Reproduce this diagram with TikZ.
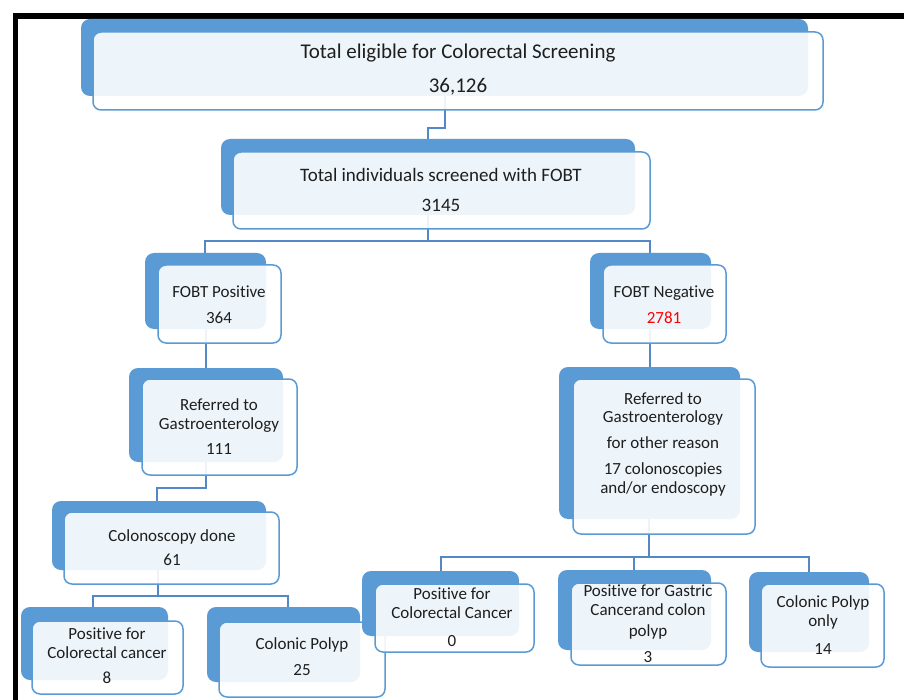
\documentclass[tikz,border=0pt]{standalone}
\usepackage{fontspec}
\setmainfont[Ligatures={NoCommon}]{Carlito}
\usetikzlibrary{fit}
\definecolor{accent}{HTML}{5B9BD5}
\definecolor{linkc}{HTML}{5287C8}
\definecolor{ink}{HTML}{1E1E1E}
\pgfdeclarelayer{canvas}
\pgfdeclarelayer{links}
\pgfsetlayers{canvas,links,main}
\begin{document}
\begin{tikzpicture}[x=1pt,y=-1pt,
  boxback/.style={fill=accent, draw=none, rounded corners=9pt, inner sep=0pt, outer sep=0pt},
  boxfront/.style={draw=accent, line width=1.5pt, fill=white, fill opacity=0.9, rounded corners=8pt, inner sep=0pt, outer sep=0pt},
  link/.style={draw=linkc, line width=1.9pt},
  lbl/.style={align=center, text=ink, font=\fontsize{17}{19}\selectfont, inner sep=0pt}]
\useasboundingbox (0,0) rectangle (904,700);
\begin{pgfonlayer}{canvas}
\fill[white] (0,0) rectangle (904,700);
\draw[line width=5.5pt, black] (904,16) -- (15.5,16) -- (15.5,700);
\end{pgfonlayer}

% level 1
\node[boxback, fit={(81,19)(808,96)}] (b1) {};
\node[boxfront, fit={(93,32)(823,110)}] (f1) {};
\node[lbl, font=\fontsize{21}{25}\selectfont] (t1) at (458,70) {Total eligible for Colorectal Screening\\[9pt]36,126};

% level 2
\node[boxback, fit={(221,139)(635,215)}] (b2) {};
\node[boxfront, fit={(233,152)(650,229)}] (f2) {};
\node[lbl, font=\fontsize{19}{22}\selectfont] (t2) at (441,190) {Total individuals screened with FOBT\\[8pt]3145};

% level 3
\node[boxback, fit={(145,253)(266,329)}] (b3) {};
\node[boxfront, fit={(158,265)(281,343)}] (f3) {};
\node[lbl] (t3) at (219,305) {FOBT Positive\\[7pt]364};

\node[boxback, fit={(590,253)(711,329)}] (b4) {};
\node[boxfront, fit={(603,265)(726,343)}] (f4) {};
\node[lbl] (t4) at (664,305) {FOBT Negative\\[7pt]\textcolor{red}{2781}};

% level 4
\node[boxback, fit={(129,368)(283,462)}] (b5) {};
\node[boxfront, fit={(142,379)(297,475)}] (f5) {};
\node[lbl] (t5) at (219,427) {Referred to\\Gastroenterology\\[6pt]111};

\node[boxback, fit={(559,367)(740,519)}] (b6) {};
\node[boxfront, fit={(573,379)(755,534)}] (f6) {};
\node[lbl, font=\fontsize{17}{18.5}\selectfont] (t6) at (663,444) {Referred to\\Gastroenterology\\[7.5pt]for other reason\\[7.5pt]17 colonoscopies\\and/or endoscopy};

% level 5
\node[boxback, fit={(52,501)(266,570)}] (b7) {};
\node[boxfront, fit={(64,512)(279,584)}] (f7) {};
\node[lbl] (t7) at (172,548) {Colonoscopy done\\[5pt]61};

% level 6 left
\node[boxback, fit={(21,607)(168,680)}] (b8) {};
\node[boxfront, fit={(32,621)(183,694)}] (f8) {};
\node[lbl] (t8) at (107,656) {Positive for\\Colorectal cancer\\[6pt]8};

\node[boxback, fit={(207,607)(360,682)}] (b9) {};
\node[boxfront, fit={(219,622)(385,697)}] (f9) {};
\node[lbl] (t9) at (302,657) {Colonic Polyp\\[7pt]25};

% level 6 right
\node[boxback, fit={(362,571)(519,636)}] (b10) {};
\node[boxfront, fit={(375,584)(534,652)}] (f10) {};
\node[lbl] (t10) at (452,617) {Positive for\\Colorectal Cancer\\[9pt]0};

\node[boxback, fit={(558,570)(711,650)}] (b11) {};
\node[boxfront, fit={(571,583)(726,665)}] (f11) {};
\node[lbl] (t11) at (648,624) {Positive for Gastric\\Cancerand colon\\[2pt]polyp\\[7pt]3};

\node[boxback, fit={(749,572)(869,652)}] (b12) {};
\node[boxfront, fit={(761,584)(884,667)}] (f12) {};
\node[lbl] (t12) at (823,625) {Colonic Polyp\\only\\[9pt]14};

% connectors
\begin{pgfonlayer}{links}
\draw[link] (b1.south -| 445,0) |- (428,128) -- (b2.north -| 428,0);
\draw[link] (b2.south -| 428,0) -- (428,241);
\draw[link] (b3.north -| 205,0) |- (428,241) -| (b4.north -| 650,0);
\draw[link] (b3.south -| 206,0) -- (b5.north -| 206,0);
\draw[link] (b4.south -| 650,0) -- (b6.north -| 650,0);
\draw[link] (b5.south -| 206,0) |- (157,488) -- (b7.north -| 157,0);
\draw[link] (b7.south -| 158,0) -- (158,596);
\draw[link] (b8.north -| 93,0) |- (158,596) -| (b9.north -| 288,0);
\draw[link] (b6.south -| 649,0) -- (649,557);
\draw[link] (b10.north -| 441,0) |- (649,557) -| (b12.north -| 809,0);
\draw[link] (634,557) -- (b11.north -| 634,0);
\end{pgfonlayer}
\end{tikzpicture}
\end{document}
